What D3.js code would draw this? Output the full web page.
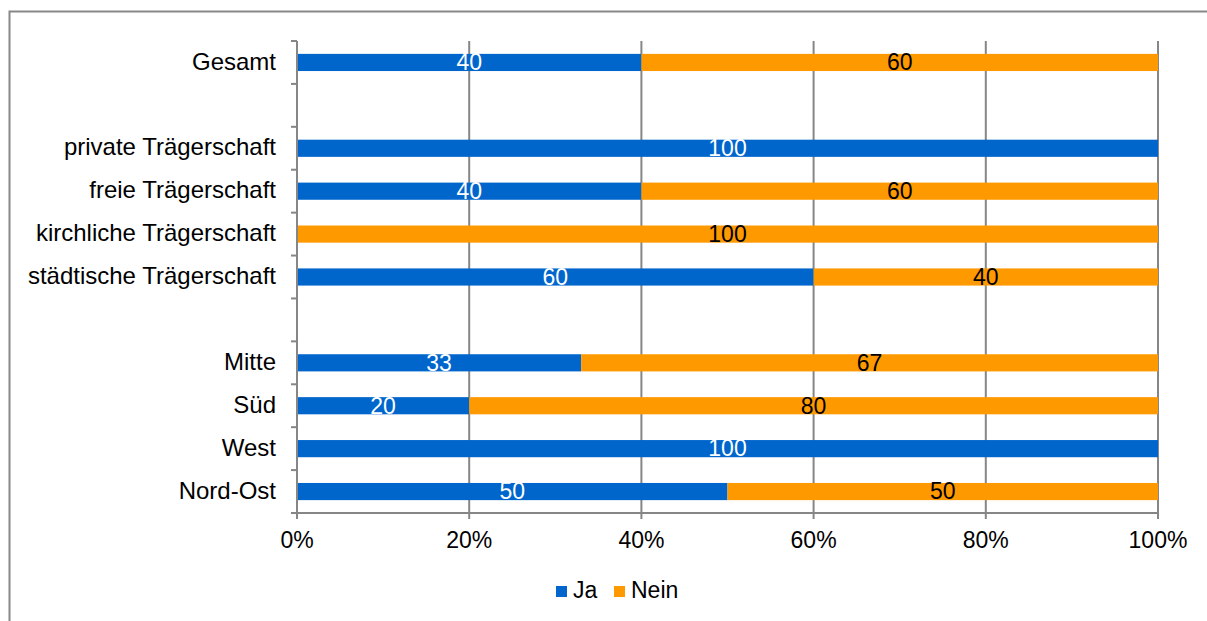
<!DOCTYPE html>
<html><head><meta charset="utf-8">
<script src="https://cdn.jsdelivr.net/npm/d3@7/dist/d3.min.js"></script>
<style>body{margin:0;background:#fff;} svg{display:block;font-family:"Liberation Sans",Arial,sans-serif;}</style>
</head><body>
<svg id="c" width="1207" height="621"></svg>
<script>
const categories = ["Gesamt", "", "private Trägerschaft", "freie Trägerschaft", "kirchliche Trägerschaft", "städtische Trägerschaft", " ", "Mitte", "Süd", "West", "Nord-Ost"];
const jaValues =   [40, null, 100, 40, 0, 60, null, 33, 20, 100, 50];
const neinValues = [60, null, 0, 60, 100, 40, null, 67, 80, 0, 50];
const seriesNames = ["Ja", "Nein"];
const seriesColors = ["#0066CC", "#FF9900"];
const labelColors = ["#ffffff", "#000000"];
const xTicks = [0, 0.2, 0.4, 0.6, 0.8, 1.0];

(function(){
const svg = d3.select("#c");
svg.append("rect").attr("x", 9.5).attr("y", 11.5).attr("width", 1210).attr("height", 640)
  .attr("fill", "none").attr("stroke", "#888").attr("stroke-width", 2);

const pL = 297, pR = 1158, pT = 41, pB = 513;
const fs = 23;
const x = d3.scaleLinear().domain([0, 1]).range([pL, pR]);
const y = d3.scaleBand().domain(categories).range([pT, pB]).paddingInner(0.6).paddingOuter(0.3);
const yb = d3.scaleBand().domain(categories).range([pT, pB]);

svg.append("g").selectAll("line").data(xTicks.slice(1)).join("line")
  .attr("x1", d => x(d)).attr("x2", d => x(d)).attr("y1", pT).attr("y2", pB)
  .attr("stroke", "#868686").attr("stroke-width", 2);

const rows = categories.map((c, i) => ({c, ja: jaValues[i], nein: neinValues[i]})).filter(r => r.ja !== null);
const segs = [];
rows.forEach(r => {
  const tot = r.ja + r.nein;
  let acc = 0;
  [r.ja, r.nein].forEach((v, k) => {
    segs.push({c: r.c, k, v, x0: acc / tot, x1: (acc + v) / tot});
    acc += v;
  });
});

svg.append("g").selectAll("rect").data(segs.filter(s => s.v > 0)).join("rect")
  .attr("x", d => x(d.x0)).attr("width", d => x(d.x1) - x(d.x0))
  .attr("y", d => y(d.c)).attr("height", y.bandwidth())
  .attr("fill", d => seriesColors[d.k]);

svg.append("g").selectAll("text").data(segs.filter(s => s.v > 0)).join("text")
  .attr("x", d => (x(d.x0) + x(d.x1)) / 2).attr("y", d => y(d.c) + y.bandwidth() / 2)
  .attr("dy", "0.34em").attr("text-anchor", "middle").attr("font-size", fs)
  .attr("fill", d => labelColors[d.k]).text(d => d.v);

const ya = svg.append("g");
ya.append("line").attr("x1", pL).attr("x2", pL).attr("y1", pT).attr("y2", pB).attr("stroke", "#868686").attr("stroke-width", 2);
const bounds = d3.range(categories.length + 1).map(i => pT + i * yb.step());
ya.selectAll("line.t").data(bounds).join("line").attr("class", "t")
  .attr("x1", pL - 6).attr("x2", pL).attr("y1", d => d).attr("y2", d => d)
  .attr("stroke", "#868686").attr("stroke-width", 2);
ya.selectAll("text").data(categories).join("text")
  .attr("x", 276).attr("y", d => yb(d) + yb.bandwidth() / 2 - 1).attr("dy", "0.34em")
  .attr("text-anchor", "end").attr("font-size", 24).attr("fill", "#000").text(d => d.trim());

const xa = svg.append("g");
xa.append("line").attr("x1", pL - 6).attr("x2", pR).attr("y1", pB).attr("y2", pB).attr("stroke", "#868686").attr("stroke-width", 2);
xa.selectAll("line.t").data(xTicks).join("line").attr("class", "t")
  .attr("x1", d => x(d)).attr("x2", d => x(d)).attr("y1", pB).attr("y2", pB + 6)
  .attr("stroke", "#868686").attr("stroke-width", 2);
xa.selectAll("text").data(xTicks).join("text")
  .attr("x", d => x(d)).attr("y", 548).attr("text-anchor", "middle").attr("font-size", fs)
  .text(d => d3.format(".0%")(d));

const lg = svg.append("g");
const lx = [556, 614];
seriesNames.forEach((n, i) => {
  lg.append("rect").attr("x", lx[i]).attr("y", 586).attr("width", 11).attr("height", 11).attr("fill", seriesColors[i]);
  lg.append("text").attr("x", lx[i] + 17).attr("y", 598).attr("font-size", fs).text(n);
});
})();
</script>
</body></html>
